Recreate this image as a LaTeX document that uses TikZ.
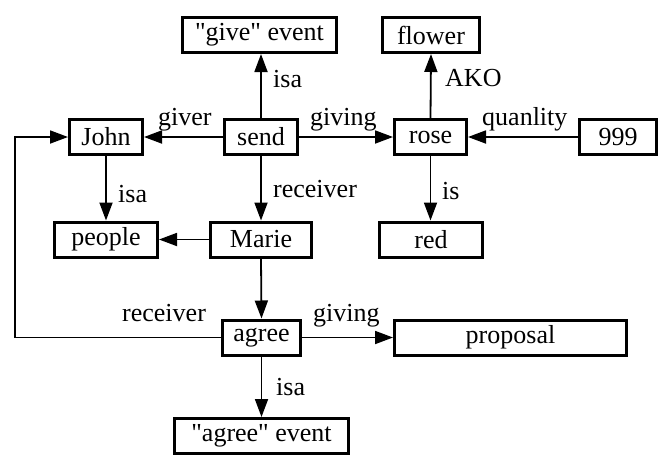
\documentclass[tikz,border=0pt]{standalone}
\usepackage{fontspec}
\setmainfont{Liberation Serif}[Ligatures=TeXOff]
\usetikzlibrary{arrows.meta}
\begin{document}
\begin{tikzpicture}[x=1pt,y=-1pt,
  box/.style={draw, line width=3pt, minimum height=35pt, inner sep=0pt, font=\fontsize{26}{30}\selectfont},
  conn/.style={line width=1.8pt, -{Triangle[length=18pt,width=13pt]}},
  lbl/.style={inner sep=0pt, anchor=base west, font=\fontsize{26}{30}\selectfont}]
\useasboundingbox (0,0) rectangle (668,461);
% nodes
\node[box, minimum width=154pt] (give) at (259.5,35) {"give" event};
\node[box, minimum width=97pt] (flower) at (431,35) {flower};
\node[box, minimum width=73pt] (john) at (106,137) {John};
\node[box, minimum width=73pt] (send) at (261,137) {send};
\node[box, minimum width=72pt] (rose) at (430.5,137) {rose};
\node[box, minimum width=77pt] (nnn) at (618,137) {999};
\node[box, minimum width=103pt] (people) at (106,239.5) {people};
\node[box, minimum width=101pt] (marie) at (261,239.5) {Marie};
\node[box, minimum width=103pt] (red) at (431,239.5) {red};
\node[box, minimum width=78pt] (agree) at (261.5,337.5) {agree};
\node[box, minimum width=232pt] (proposal) at (510.5,337.5) {proposal};
\node[box, minimum width=174pt] (agreeev) at (261.5,436) {"agree" event};
\coordinate (lc) at (15,337.5);
% connectors
\draw[conn] (send.north) -- (send.north |- give.south);
\draw[conn] (send.west) -- (john.east);
\draw[conn] (send.east) -- (rose.west);
\draw[conn] (send.south) -- (marie.north);
\draw[conn] (john.south) -- (people.north);
\draw[conn] (marie.west) -- (people.east);
\draw[conn] (marie.south) -- (agree.north);
\draw[conn] (rose.north) -- (flower.south);
\draw[conn] (nnn.west) -- (rose.east);
\draw[conn] (rose.south) -- (rose.south |- red.north);
\draw[conn] (agree.east) -- (proposal.west);
\draw[conn] (agree.south) -- (agree.south |- agreeev.north);
\draw[conn] (agree.west) -- (lc) |- (john.west);
% labels
\node[lbl] (l1) at (273,87) {isa};
\node[lbl] (l2) at (158,125) {giver};
\node[lbl] (l3) at (310,125) {giving};
\node[lbl] (l4) at (273,197) {receiver};
\node[lbl] (l5) at (118,202) {isa};
\node[lbl] (l6) at (445,86) {AKO};
\node[lbl] (l7) at (482,125) {quanlity};
\node[lbl] (l8) at (442,199) {is};
\node[lbl] (l9) at (122,321) {receiver};
\node[lbl] (l10) at (313,321) {giving};
\node[lbl] (l11) at (276,395) {isa};
\end{tikzpicture}
\end{document}
